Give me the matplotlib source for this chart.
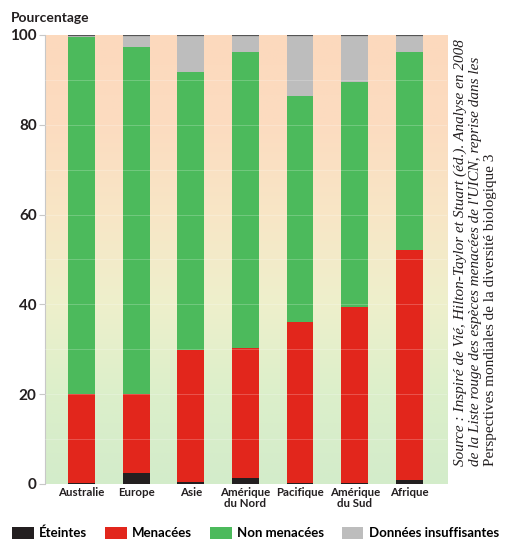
import matplotlib

matplotlib.use("Agg")
import matplotlib.pyplot as plt
import numpy as np
from matplotlib.colors import LinearSegmentedColormap
from matplotlib.patches import Patch


regions = ["Australie", "Europe", "Asie", "Amérique\ndu Nord", "Pacifique",
           "Amérique\ndu Sud", "Afrique"]
eteintes = [0.2, 2.4, 0.4, 1.4, 0.2, 0.2, 0.9]
menacees = [19.8, 17.6, 29.4, 28.9, 35.9, 39.2, 51.2]
non_menacees = [79.6, 77.3, 62.0, 65.9, 50.2, 50.1, 44.0]
donnees_insuffisantes = [0.4, 2.7, 8.2, 3.8, 13.7, 10.5, 3.9]
y_ticks = [0, 20, 40, 60, 80, 100]

source_lines = [
    ("Source : Inspiré de Vié, Hilton-Taylor et Stuart (éd.). Analyse en 2008", "italic"),
    ("de la Liste rouge des espèces menacées de l'UICN, reprise dans les", "italic"),
    ("Perspectives mondiales de la diversité biologique 3", "normal"),
]

colors = {
    "Éteintes": "#231f20",
    "Menacées": "#e2261c",
    "Non menacées": "#4cba5c",
    "Données insuffisantes": "#bdbdbd",
}

plt.rcParams["font.family"] = ["Lato", "DejaVu Sans"]

fig = plt.figure(figsize=(5.06, 5.41), dpi=100)
ax = fig.add_axes([0.0889, 0.1054, 0.7945, 0.830])

# background wash, peach at the top, pale green at the bottom
bg = LinearSegmentedColormap.from_list(
    "bg", ["#d3ecca", "#dcefca", "#eef0cc", "#f8e6c6", "#fcdcc0", "#fcd9bd"])
ax.imshow(np.linspace(0, 1, 256).reshape(-1, 1), cmap=bg, origin="lower",
          extent=(-0.67, 6.69, 0, 100), aspect="auto", zorder=0)

x = np.arange(len(regions))
width = 0.49
bottom = np.zeros(len(regions))
series = [("Éteintes", eteintes), ("Menacées", menacees),
          ("Non menacées", non_menacees),
          ("Données insuffisantes", donnees_insuffisantes)]
for name, vals in series:
    ax.bar(x, vals, width, bottom=bottom, color=colors[name], zorder=2)
    bottom = bottom + np.array(vals)
ax.hlines(bottom, x - width / 2, x + width / 2, color="#555555", lw=1.6, zorder=3)

for yv in range(10, 100, 10):
    ax.axhline(yv, color="white", lw=0.7, alpha=0.22, zorder=3)

ax.set_xlim(-0.67, 6.69)
ax.set_ylim(0, 100)
ax.set_yticks(y_ticks)
ax.set_yticklabels([str(v) for v in y_ticks], fontsize=11, fontweight="bold",
                   color="#231f20")
ax.set_xticks(x)
ax.set_xticklabels(regions, fontsize=8.3, fontweight="bold", color="#231f20",
                   linespacing=1.0)
ax.tick_params(axis="x", length=0, pad=2)
ax.tick_params(axis="y", length=4, width=0.8, color="#c8c8c8", pad=2)
for side in ["top", "right", "bottom"]:
    ax.spines[side].set_visible(False)
ax.spines["left"].set_color("#c8c8c8")
ax.spines["left"].set_linewidth(0.8)

fig.text(11 / 506, 1 - 18 / 541, "Pourcentage", fontsize=10, fontweight="bold",
         color="#231f20", va="center", ha="left")

for i, (line, style) in enumerate(source_lines):
    fig.text((460 + 15.5 * i) / 506, 1 - 466 / 541, line, rotation=90,
             rotation_mode="anchor", ha="left", va="center", fontsize=11,
             family=["Liberation Serif"], style=style, color="#231f20")

handles = [Patch(facecolor=colors[name], edgecolor="none") for name, _ in series]
fig.legend(handles, [name for name, _ in series], loc="center left",
           bbox_to_anchor=(12 / 506, 1 - 533 / 541), ncol=4, frameon=False,
           handlelength=1.65, handleheight=1.0, handletextpad=0.4,
           columnspacing=1.35, borderpad=0, borderaxespad=0,
           prop={"size": 9.5, "weight": "bold"})

fig.savefig("out.png", dpi=100)
plt.close(fig)
